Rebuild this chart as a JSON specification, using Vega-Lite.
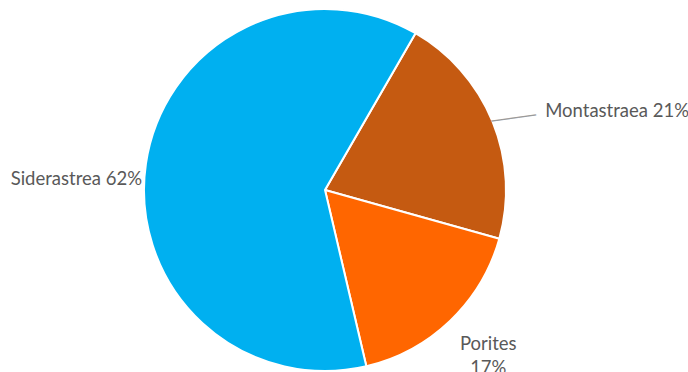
{
  "$schema": "https://vega.github.io/schema/vega-lite/v6.json",
  "width": 650,
  "height": 364,
  "autosize": "none",
  "padding": {"left": 0, "right": 38, "top": 8, "bottom": 0},
  "background": "white",
  "view": {"stroke": null},
  "data": {"values": [
    {"species": "Montastraea", "pct": 21, "label": "Montastraea 21%"},
    {"species": "Porites", "pct": 17, "label": "Porites\n17%"},
    {"species": "Siderastrea", "pct": 62, "label": "Siderastrea 62%"}
  ]},
  "encoding": {
    "theta": {"field": "pct", "type": "quantitative", "stack": true, "scale": {"range": [0.5236, 6.8068]}},
    "order": {"field": "species", "sort": "ascending"}
  },
  "layer": [
    {
      "mark": {"type": "arc", "outerRadius": 181, "stroke": "white", "strokeWidth": 2},
      "encoding": {
        "color": {"field": "species", "type": "nominal", "legend": null,
          "scale": {"domain": ["Montastraea", "Porites", "Siderastrea"], "range": ["#C55A11", "#FF6600", "#00B0F0"]}}
      }
    },
    {
      "mark": {"type": "text", "radius": 203, "dy": 5, "align": "center", "baseline": "middle", "angle": -8, "font": "DejaVu Sans Mono", "fontSize": 15, "color": "#9a9a9a"},
      "encoding": {"text": {"condition": {"test": "datum.species === 'Montastraea'", "value": "─────"}, "value": ""}}
    },
    {
      "mark": {"type": "text", "radius": 200, "dx": 35, "dy": -3, "align": "left", "baseline": "middle", "font": "Lato", "fontSize": 18.5, "color": "#595959"},
      "encoding": {"text": {"condition": {"test": "datum.species === 'Montastraea'", "field": "label"}, "value": ""}}
    },
    {
      "mark": {"type": "text", "radius": 233, "dy": -14, "dx": 2, "align": "center", "baseline": "middle", "lineBreak": "\n", "lineHeight": 24, "font": "Lato", "fontSize": 18.5, "color": "#595959"},
      "encoding": {"text": {"condition": {"test": "datum.species === 'Porites'", "field": "label"}, "value": ""}}
    },
    {
      "mark": {"type": "text", "radius": 188, "dy": 16, "dx": 3, "align": "right", "baseline": "middle", "font": "Lato", "fontSize": 18.5, "color": "#595959"},
      "encoding": {"text": {"condition": {"test": "datum.species === 'Siderastrea'", "field": "label"}, "value": ""}}
    }
  ]
}
